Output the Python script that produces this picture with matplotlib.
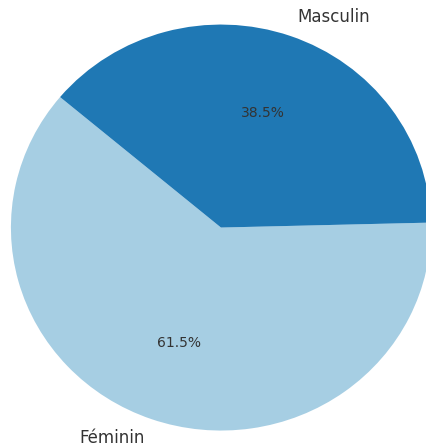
import matplotlib
matplotlib.use("Agg")
import matplotlib.pyplot as plt

labels = ["Féminin", "Masculin"]
shares = [61.5, 38.5]
colors = ["#a6cee3", "#1f78b4"]

fig = plt.figure(figsize=(4.27, 4.48), dpi=100)
ax = fig.add_axes([0, 0, 1, 1])
wedges, texts, autotexts = ax.pie(
    shares, labels=labels, colors=colors, autopct="%1.1f%%",
    startangle=140, textprops={"color": "#333333", "fontsize": 10},
)
for t in texts:
    t.set_fontsize(12)
ax.set_aspect("auto")
ax.set_xlim(-1.052, 0.981)
ax.set_ylim(-1.086, 1.121)
ax.axis("off")
fig.savefig("out.png", dpi=100)
